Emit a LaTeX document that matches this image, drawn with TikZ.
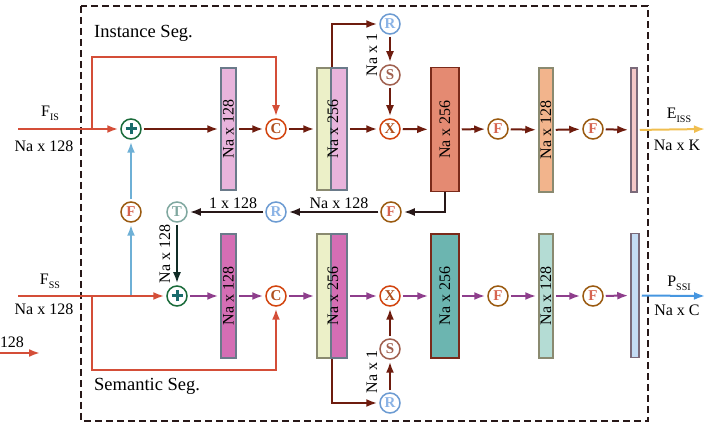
\documentclass[tikz,border=0pt]{standalone}
\usepackage{fontspec}
\setmainfont{Liberation Serif}
\usetikzlibrary{arrows.meta}
\definecolor{cred}{RGB}{212,78,56}
\definecolor{cbrown}{RGB}{110,28,14}
\definecolor{cpurp}{RGB}{142,62,140}
\definecolor{cblue}{RGB}{110,176,214}
\definecolor{cdark}{RGB}{40,24,24}
\definecolor{cdgreen}{RGB}{16,44,38}
\definecolor{cyel}{RGB}{240,190,80}
\definecolor{cout}{RGB}{70,150,224}
\definecolor{pinkA}{RGB}{232,180,220}
\definecolor{pinkB}{RGB}{212,110,180}
\definecolor{yelbox}{RGB}{236,240,200}
\definecolor{salm}{RGB}{228,138,114}
\definecolor{orng}{RGB}{242,180,140}
\definecolor{rose}{RGB}{244,200,200}
\definecolor{teal}{RGB}{108,181,176}
\definecolor{lteal}{RGB}{180,220,212}
\definecolor{lblue}{RGB}{196,220,244}
\definecolor{bgray}{RGB}{106,122,138}
\definecolor{bolive}{RGB}{138,138,112}
\definecolor{bred}{RGB}{122,42,26}
\definecolor{bmauve}{RGB}{122,106,122}
\definecolor{opF}{RGB}{154,90,16}
\definecolor{opFt}{RGB}{214,100,80}
\definecolor{opC}{RGB}{210,68,14}
\definecolor{opCt}{RGB}{176,80,30}
\definecolor{opR}{RGB}{108,155,210}
\definecolor{opRt}{RGB}{140,180,230}
\definecolor{opS}{RGB}{160,96,79}
\definecolor{opT}{RGB}{128,168,160}
\definecolor{opP}{RGB}{26,107,58}
\definecolor{opPt}{RGB}{26,107,107}
\begin{document}
\begin{tikzpicture}[x=1pt,y=-1pt,
  lab/.style={font=\fontsize{16}{16}\selectfont, inner sep=0pt},
  ttl/.style={font=\fontsize{18.5}{18.5}\selectfont, inner sep=0pt, anchor=west},
  op/.style={circle, draw, line width=1.5pt, minimum size=20pt, inner sep=0pt, fill=white,
    font=\bfseries\fontsize{15}{15}\selectfont},
  bar/.style={rectangle, draw, line width=1.5pt, inner sep=0pt, rotate=90,
    font=\fontsize{16}{16}\selectfont},
  arr/.style={-{Latex[length=11pt,width=8pt]}, line width=2pt, shorten >=2pt, shorten <=2pt},
  plusbar/.style={opPt, line width=3pt},
]
\useasboundingbox (0,0) rectangle (705,430);
\draw[cdark, line width=1.6pt, dash pattern=on 7pt off 4pt] (81,6) rectangle (648,421);

\node[ttl] (tI) at (94,33) {Instance Seg.};
\node[ttl] (tS) at (94,386) {Semantic Seg.};

% ---- top row boxes
\node[bar, fill=pinkA, draw=bgray, minimum width=122pt, minimum height=15pt] (b1) at (228.5,129) {Na x 128};
\node[rectangle, draw=bolive, line width=1.5pt, fill=yelbox, minimum width=14pt, minimum height=122pt, inner sep=0pt] (b2y) at (324,129) {};
\node[rectangle, draw=bgray, line width=1.5pt, fill=pinkA, minimum width=16pt, minimum height=122pt, inner sep=0pt] (b2p) at (339,129) {};
\node[lab, rotate=90] (b2t) at (333,129) {Na x 256};
\node[bar, fill=salm, draw=bred, minimum width=124pt, minimum height=28pt] (b3) at (445,129.5) {Na x 256};
\node[bar, fill=orng, draw=bolive, minimum width=124pt, minimum height=14pt] (b4) at (546,130) {Na x 128};
\node[bar, fill=rose, draw=bmauve, minimum width=124pt, minimum height=6pt] (b5) at (634,130) {};

% ---- bottom row boxes
\node[bar, fill=pinkB, draw=bgray, minimum width=124pt, minimum height=15pt] (c1) at (228.5,296) {Na x 128};
\node[rectangle, draw=bolive, line width=1.5pt, fill=yelbox, minimum width=14pt, minimum height=124pt, inner sep=0pt] (c2y) at (324,296) {};
\node[rectangle, draw=bgray, line width=1.5pt, fill=pinkB, minimum width=16pt, minimum height=124pt, inner sep=0pt] (c2p) at (339,296) {};
\node[lab, rotate=90] (c2t) at (333,296) {Na x 256};
\node[bar, fill=teal, draw=bred, minimum width=124pt, minimum height=28pt] (c3) at (445,296) {Na x 256};
\node[bar, fill=lteal, draw=bolive, minimum width=124pt, minimum height=14pt] (c4) at (546,296) {Na x 128};
\node[bar, fill=lblue, draw=bmauve, minimum width=124pt, minimum height=8pt] (c5) at (635,295.5) {};

% ---- operators top
\node[op, draw=opP] (pA) at (131,129) {};
\node[op, draw=opC, text=opCt] (C1) at (276,129) {C};
\node[op, draw=opR, text=opRt] (R1) at (390,24) {R};
\node[op, draw=opS, text=opS] (S1) at (390,75) {S};
\node[op, draw=opC, text=opCt] (X1) at (390,129) {X};
\node[op, draw=opF, text=opFt] (F1) at (498,129) {F};
\node[op, draw=opF, text=opFt] (F2) at (593,129) {F};
% middle
\node[op, draw=opF, text=opFt] (Fb) at (391,212) {F};
\node[op, draw=opR, text=opRt] (R2) at (276,212) {R};
\node[op, draw=opT, text=opT] (T) at (177,212) {T};
\node[op, draw=opF, text=opFt] (Fl) at (131,212) {F};
% bottom
\node[op, draw=opP] (pB) at (177,296) {};
\node[op, draw=opC, text=opCt] (C2) at (276,296) {C};
\node[op, draw=opC, text=opCt] (X2) at (390,296) {X};
\node[op, draw=opS, text=opS] (S2) at (390,349) {S};
\node[op, draw=opR, text=opRt] (R3) at (390,403) {R};
\node[op, draw=opF, text=opFt] (F3) at (498,296) {F};
\node[op, draw=opF, text=opFt] (F4) at (593,296) {F};

% plus signs
\draw[plusbar] ([xshift=-5.5pt]pA.center) -- ([xshift=5.5pt]pA.center);
\draw[plusbar] ([yshift=-5.5pt]pA.center) -- ([yshift=5.5pt]pA.center);
\draw[plusbar] ([xshift=-5.5pt]pB.center) -- ([xshift=5.5pt]pB.center);
\draw[plusbar] ([yshift=-5.5pt]pB.center) -- ([yshift=5.5pt]pB.center);

% ---- coordinates
\coordinate (inT) at (18,129);
\coordinate (inB) at (18,296);
\coordinate (brT) at (92,129);
\coordinate (brB) at (92,296);
\coordinate (brL) at (131,296);
\coordinate (outT) at (705,129);
\coordinate (outB) at (705,296);
\coordinate (sa) at (0,353);
\coordinate (sb) at (42,353);

% ---- labels
\node[lab] (lFis) at (50,113) {F\raisebox{-0.55ex}{\fontsize{10}{10}\selectfont IS}};
\node[lab] (lNis) at (44,146) {Na x 128};
\node[lab] (lFss) at (50,281) {F\raisebox{-0.55ex}{\fontsize{10}{10}\selectfont SS}};
\node[lab] (lNss) at (44,309) {Na x 128};
\node[lab] (lE) at (679,115) {E\raisebox{-0.55ex}{\fontsize{10}{10}\selectfont ISS}};
\node[lab] (lNK) at (677,145) {Na x K};
\node[lab] (lP) at (679,283) {P\raisebox{-0.55ex}{\fontsize{10}{10}\selectfont SSI}};
\node[lab] (lNC) at (677,310) {Na x C};
\node[lab, rotate=90] (lr1) at (372,55) {Na x 1};
\node[lab, rotate=90] (lr3) at (372,372) {Na x 1};
\node[lab, rotate=90] (lT) at (165,254) {Na x 128};
\node[lab] (l1) at (233,203) {1 x 128};
\node[lab] (l2) at (339,203) {Na x 128};
\node[lab] (lst) at (12,342) {128};

% ---- top connectors
\draw[arr, cred, shorten <=0pt] (inT) -- (pA);
\draw[arr, cred, shorten <=0pt] (brT) -- (92,57) -| (C1);
\draw[arr, cbrown] (pA) -- (b1);
\draw[arr, cbrown] (b1) -- (C1);
\draw[arr, cbrown] (C1) -- (b2y);
\draw[arr, cbrown] (b2p) -- (X1);
\draw[arr, cbrown, shorten <=0pt] (b2y.north east) |- (R1);
\draw[arr, cbrown] (R1) -- (S1);
\draw[arr, cbrown] (S1) -- (X1);
\draw[arr, cbrown] (X1) -- (b3);
\draw[arr, cbrown] (b3) -- (F1);
\draw[arr, cbrown] (F1) -- (b4);
\draw[arr, cbrown] (b4) -- (F2);
\draw[arr, cbrown] (F2) -- (b5);
\draw[arr, cyel, shorten >=0pt] (b5) -- (outT);

% ---- middle connectors
\draw[arr, cdark, shorten <=0pt] (b3.west) |- (Fb);
\draw[arr, cdark] (Fb) -- (R2);
\draw[arr, cdark] (R2) -- (T);
\draw[arr, cdgreen] (T) -- (pB);
\draw[arr, cblue, shorten <=0pt] (brL) -- (Fl);
\draw[arr, cblue] (Fl) -- (pA);

% ---- bottom connectors
\draw[arr, cred, shorten <=0pt] (inB) -- (pB);
\draw[arr, cred, shorten <=0pt] (brB) -- (92,370) -| (C2);
\draw[arr, cpurp] (pB) -- (c1);
\draw[arr, cpurp] (c1) -- (C2);
\draw[arr, cpurp] (C2) -- (c2y);
\draw[arr, cpurp] (c2p) -- (X2);
\draw[arr, cbrown, shorten <=0pt] (c2y.south east) |- (R3);
\draw[arr, cbrown] (R3) -- (S2);
\draw[arr, cbrown] (S2) -- (X2);
\draw[arr, cpurp] (X2) -- (c3);
\draw[arr, cpurp] (c3) -- (F3);
\draw[arr, cpurp] (F3) -- (c4);
\draw[arr, cpurp] (c4) -- (F4);
\draw[arr, cpurp] (F4) -- (c5);
\draw[arr, cout, shorten >=0pt] (c5) -- (outB);

\draw[arr, cred, shorten <=0pt] (sa) -- (sb);
\end{tikzpicture}
\end{document}
